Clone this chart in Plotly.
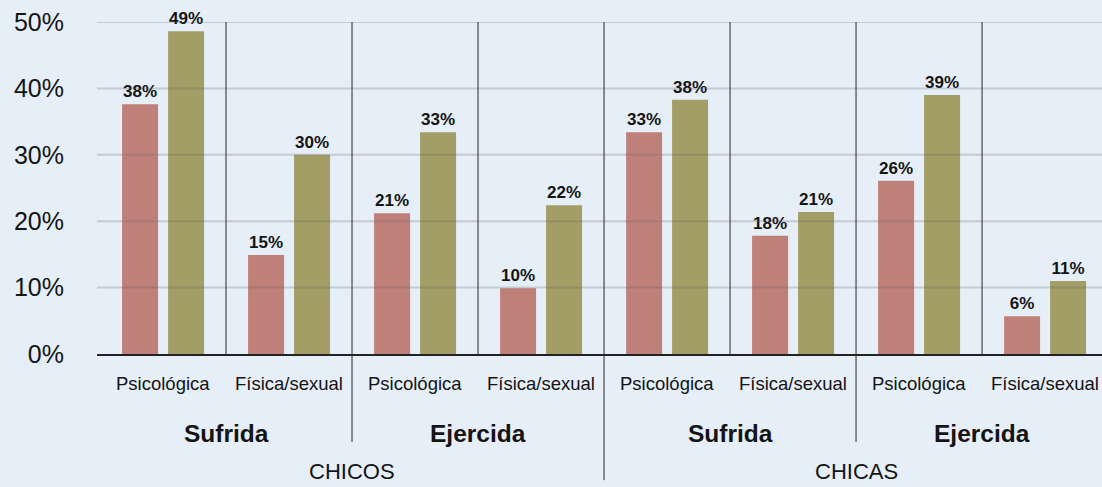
import plotly.graph_objects as go

subcats = ["Psicológica", "Física/sexual"] * 4
groups = ["Sufrida", "Ejercida", "Sufrida", "Ejercida"]
genders = ["CHICOS", "CHICAS"]
series_a = [37.6, 14.9, 21.2, 9.9, 33.4, 17.8, 26.1, 5.7]
series_b = [48.6, 30.0, 33.4, 22.4, 38.3, 21.4, 39.0, 11.0]
y_ticks = [0, 10, 20, 30, 40, 50]
y_ticktext = ["0%", "10%", "20%", "30%", "40%", "50%"]

FONT = "Liberation Sans"
RED = "#C0807A"
OLIVE = "#A39E66"
BG = "#E6EEF7"
INK = "#141414"

xpos = list(range(len(subcats)))
bw = 0.2857

fig = go.Figure()
fig.add_trace(go.Bar(
    x=xpos, y=series_a, width=bw, offset=-0.325, marker_color=RED,
    text=[f"{v:.0f}%" for v in series_a], textposition="outside",
    texttemplate="<b>%{text}</b>",
    textfont=dict(family=FONT, size=17, color=INK), cliponaxis=False,
    showlegend=False, marker_line_width=0,
))
fig.add_trace(go.Bar(
    x=xpos, y=series_b, width=bw, offset=0.04, marker_color=OLIVE,
    text=[f"{v:.0f}%" for v in series_b], textposition="outside",
    texttemplate="<b>%{text}</b>",
    textfont=dict(family=FONT, size=17, color=INK), cliponaxis=False,
    showlegend=False, marker_line_width=0,
))

shapes = []
for t in y_ticks[1:]:
    shapes.append(dict(type="line", xref="paper", yref="y", x0=0, x1=1, y0=t, y1=t,
                       line=dict(color="rgba(80,85,95,0.22)", width=2), layer="above"))
# separators
bottoms = {0: 0, 1: -0.265, 2: 0, 3: -0.38, 4: 0, 5: -0.265, 6: 0}
for i in range(7):
    shapes.append(dict(type="line", xref="x", yref="paper", x0=i + 0.5, x1=i + 0.5,
                       y0=bottoms[i], y1=1, line=dict(color="#2a2a2a", width=1), layer="above"))

ann = []
for i, s in enumerate(subcats):
    ann.append(dict(x=i, y=-0.09, xref="x", yref="paper", text=s, showarrow=False,
                    font=dict(family=FONT, size=18.5, color=INK), yanchor="middle"))
for j, g in enumerate(groups):
    ann.append(dict(x=2 * j + 0.5, y=-0.24, xref="x", yref="paper", text=f"<b>{g}</b>",
                    showarrow=False, font=dict(family=FONT, size=24.5, color=INK), yanchor="middle"))
for k, g in enumerate(genders):
    ann.append(dict(x=4 * k + 1.5, y=-0.355, xref="x", yref="paper", text=g,
                    showarrow=False, font=dict(family=FONT, size=22, color=INK), yanchor="middle"))

fig.update_layout(
    width=1102, height=487,
    margin=dict(l=97, r=0, t=22, b=133),
    paper_bgcolor=BG, plot_bgcolor=BG,
    barmode="overlay",
    shapes=shapes, annotations=ann,
    xaxis=dict(range=[-0.524, 7.452], showticklabels=False, showgrid=False,
               zeroline=False, showline=True, linecolor="#222", linewidth=1.5, ticks=""),
    yaxis=dict(range=[0, 50], tickvals=y_ticks, ticktext=y_ticktext, showgrid=False,
               zeroline=False, showline=False, ticks="", ticklabelstandoff=32,
               tickfont=dict(family=FONT, size=25, color=INK)),
)
fig.write_html("out.html", config={"displayModeBar": False})

with open("out.html", "r", encoding="utf-8") as f:
    html = f.read()
html = html.replace("<head>", "<head><style>html,body{margin:0;padding:0;overflow:hidden;background:%s}</style>" % BG, 1)
with open("out.html", "w", encoding="utf-8") as f:
    f.write(html)
